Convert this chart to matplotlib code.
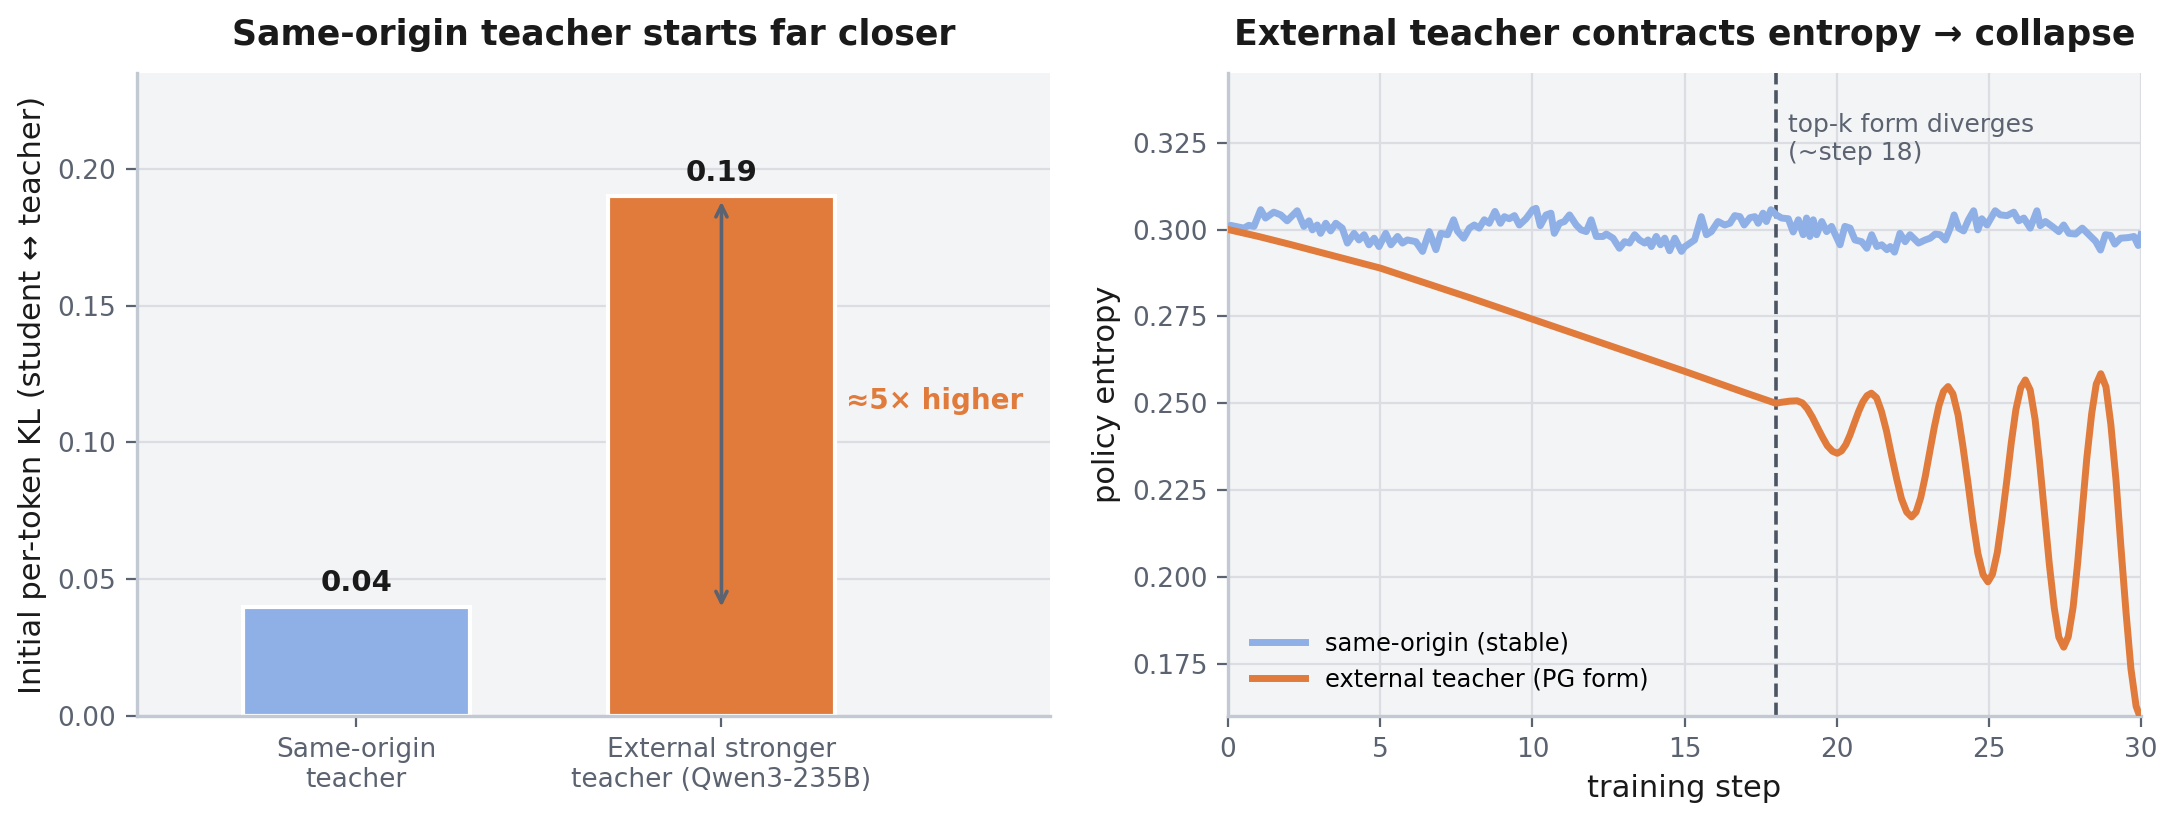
import matplotlib
matplotlib.use("Agg")
import matplotlib.pyplot as plt

# ---- Data: left panel (initial KL) ----
teachers = ["Same-origin\nteacher", "External stronger\nteacher (Qwen3-235B)"]
init_kl = [0.04, 0.19]

# ---- Data: right panel (policy entropy) ----
same_steps = [0.0, 0.08, 0.52, 0.68, 0.85, 1.07, 1.23, 1.50, 1.73, 1.94, 2.27, 2.49, 2.66,
              2.77, 2.93, 3.04, 3.21, 3.37, 3.54, 3.75, 3.92, 4.14, 4.30, 4.47, 4.63, 4.80,
              4.96, 5.18, 5.35, 5.57, 5.73, 5.89, 6.17, 6.39, 6.61, 6.83, 6.99, 7.21, 7.41,
              7.54, 7.74, 7.93, 8.09, 8.25, 8.42, 8.58, 8.77, 8.95, 9.08, 9.24, 9.41, 9.57,
              9.79, 10.01, 10.12, 10.26, 10.45, 10.61, 10.72, 10.89, 11.05, 11.22, 11.44,
              11.60, 11.77, 11.93, 12.10, 12.32, 12.43, 12.65, 12.86, 13.03, 13.19, 13.36,
              13.52, 13.69, 13.80, 13.91, 14.07, 14.21, 14.35, 14.51, 14.68, 14.90, 15.00,
              15.33, 15.55, 15.72, 15.88, 16.10, 16.32, 16.49, 16.65, 16.82, 16.96, 17.15,
              17.31, 17.42, 17.58, 17.69, 17.84, 18.02, 18.19, 18.41, 18.57, 18.74, 18.90,
              19.01, 19.12, 19.23, 19.34, 19.51, 19.67, 19.83, 20.11, 20.27, 20.44, 20.60,
              20.82, 20.99, 21.15, 21.32, 21.48, 21.65, 21.76, 21.90, 22.08, 22.25, 22.41,
              22.69, 22.91, 23.07, 23.24, 23.40, 23.57, 23.73, 23.86, 24.01, 24.17, 24.33,
              24.50, 24.64, 24.77, 24.94, 25.21, 25.38, 25.60, 25.82, 25.98, 26.15, 26.36,
              26.58, 26.69, 26.86, 27.08, 27.30, 27.46, 27.63, 27.85, 28.07, 28.29, 28.51,
              28.67, 28.83, 29.00, 29.14, 29.33, 29.60, 29.77, 29.91, 30.0]
same_entropy = [0.3005, 0.3012, 0.3004, 0.3012, 0.3009, 0.3057, 0.3033, 0.3050, 0.3042, 0.3025,
                0.3054, 0.3009, 0.3025, 0.2999, 0.3013, 0.2989, 0.3018, 0.2996, 0.3018, 0.3004,
                0.2961, 0.2989, 0.2970, 0.2985, 0.2956, 0.2975, 0.2951, 0.2989, 0.2956, 0.2980,
                0.2961, 0.2970, 0.2965, 0.2937, 0.2994, 0.2942, 0.2989, 0.2985, 0.3028, 0.2995,
                0.2975, 0.3004, 0.3013, 0.3004, 0.3028, 0.3018, 0.3052, 0.3018, 0.3037, 0.3031,
                0.3040, 0.3013, 0.3031, 0.3057, 0.3061, 0.3011, 0.3042, 0.3047, 0.2989, 0.3018,
                0.3023, 0.3042, 0.3013, 0.2999, 0.2994, 0.3028, 0.2980, 0.2980, 0.2987, 0.2975,
                0.2946, 0.2965, 0.2961, 0.2985, 0.2970, 0.2961, 0.2970, 0.2951, 0.2980, 0.2956,
                0.2975, 0.2939, 0.2975, 0.2937, 0.2950, 0.2970, 0.3037, 0.2985, 0.2994, 0.3023,
                0.3013, 0.3018, 0.3040, 0.3037, 0.3013, 0.3034, 0.3037, 0.3018, 0.3047, 0.3023,
                0.3057, 0.3042, 0.3033, 0.3031, 0.2993, 0.3028, 0.2985, 0.3033, 0.2980, 0.3028,
                0.2985, 0.3023, 0.2994, 0.3009, 0.2956, 0.3009, 0.3004, 0.2970, 0.2965, 0.2946,
                0.2985, 0.2951, 0.2956, 0.2942, 0.2951, 0.2935, 0.2989, 0.2965, 0.2985, 0.2961,
                0.2970, 0.2975, 0.2987, 0.2985, 0.2970, 0.3004, 0.3042, 0.3004, 0.2996, 0.3028,
                0.3054, 0.2999, 0.3031, 0.3013, 0.3054, 0.3042, 0.3040, 0.3050, 0.3025, 0.3033,
                0.3004, 0.3054, 0.3011, 0.3023, 0.3009, 0.2994, 0.3013, 0.2989, 0.2987, 0.3004,
                0.2985, 0.2966, 0.2941, 0.2985, 0.2983, 0.2958, 0.2975, 0.2977, 0.2980, 0.2954,
                0.2985]

ext_steps = [0, 1, 2, 3, 4, 5, 6, 7, 8, 9, 10, 11, 12, 13, 14, 15, 16, 17,
             18.0, 18.2, 18.45, 18.7, 18.87, 19.03, 19.2, 19.36, 19.53, 19.69, 19.86,
             20.02, 20.16, 20.3, 20.44, 20.58, 20.72, 20.86, 21.0, 21.14,
             21.31, 21.47, 21.64, 21.8, 21.97, 22.13, 22.3, 22.46,
             22.61, 22.76, 22.91, 23.06, 23.21, 23.36, 23.51, 23.66,
             23.82, 23.99, 24.15, 24.32, 24.48, 24.64, 24.81, 24.97,
             25.12, 25.28, 25.43, 25.59, 25.74, 25.89, 26.05, 26.2,
             26.36, 26.52, 26.67, 26.83, 26.99, 27.15, 27.3, 27.46,
             27.61, 27.77, 27.92, 28.07, 28.22, 28.38, 28.53, 28.68,
             28.85, 29.01, 29.18, 29.34, 29.51, 29.67, 29.84, 30.0]
ext_entropy = [0.3000, 0.2980, 0.2958, 0.2935, 0.2912, 0.2889, 0.2860, 0.2831, 0.2802,
               0.2772, 0.2742, 0.2712, 0.2682, 0.2652, 0.2622, 0.2592, 0.2561, 0.2530,
               0.2500, 0.2503, 0.2506, 0.2507, 0.2501, 0.2485, 0.2460, 0.2432, 0.2403, 0.2378, 0.2362,
               0.2356, 0.2363, 0.2381, 0.2409, 0.2443, 0.2476, 0.2504, 0.2522, 0.2529,
               0.2516, 0.2477, 0.2419, 0.2351, 0.2283, 0.2225, 0.2187, 0.2173,
               0.2187, 0.2228, 0.2289, 0.2361, 0.2432, 0.2493, 0.2534, 0.2548,
               0.2527, 0.2466, 0.2375, 0.2267, 0.2159, 0.2068, 0.2007, 0.1986,
               0.2008, 0.2071, 0.2165, 0.2277, 0.2388, 0.2482, 0.2545, 0.2567,
               0.2538, 0.2454, 0.2330, 0.2183, 0.2035, 0.1911, 0.1827, 0.1798,
               0.1828, 0.1913, 0.2041, 0.2192, 0.2342, 0.2470, 0.2555, 0.2585,
               0.2547, 0.2439, 0.2278, 0.2088, 0.1897, 0.1736, 0.1628, 0.1590]
diverge_step = 18

# ---- Style ----
BLUE = "#8fb0e6"
ORANGE = "#e07b3c"
GRAY = "#5b6270"
BG = "#f3f4f6"
SPINE = "#c3c9d3"
GRID = "#dcdde2"

plt.rcParams["font.family"] = ["DejaVu Sans"]

fig, (ax1, ax2) = plt.subplots(1, 2, figsize=(10.89, 4.11), dpi=200)
fig.subplots_adjust(left=0.063, right=0.983, bottom=0.129, top=0.911, wspace=0.195)

for ax in (ax1, ax2):
    ax.set_facecolor(BG)
    ax.set_axisbelow(True)
    for side in ("top", "right"):
        ax.spines[side].set_visible(False)
    for side in ("left", "bottom"):
        ax.spines[side].set_color(SPINE)
        ax.spines[side].set_linewidth(1.2)
    ax.tick_params(colors=GRAY, labelsize=9.5, length=4, width=0.8)

# ----- Left: bars -----
x = [0, 1]
ax1.bar(x, init_kl, width=0.62, color=[BLUE, ORANGE], edgecolor="white",
        linewidth=1.5, zorder=2)
for xi, v in zip(x, init_kl):
    ax1.annotate(f"{v:.2f}", (xi, v), textcoords="offset points", xytext=(0, 3.5),
                 ha="center", va="bottom", fontsize=10.5, fontweight="bold",
                 color="#1a1a1a")
ax1.annotate("", xy=(1, init_kl[1] - 0.002), xytext=(1, init_kl[0]),
             arrowprops=dict(arrowstyle="<->", color=GRAY, lw=1.3,
                             shrinkA=0, shrinkB=0), zorder=3)
ax1.text(1.34, (init_kl[0] + init_kl[1]) / 2, "≈5× higher", color=ORANGE,
         fontsize=10, fontweight="bold", ha="left", va="center")
ax1.set_xticks(x)
ax1.set_xticklabels(teachers)
ax1.set_xlim(-0.6, 1.9)
ax1.set_ylim(0, 0.235)
ax1.set_yticks([0, 0.05, 0.10, 0.15, 0.20])
ax1.yaxis.grid(True, color=GRID, linewidth=0.8)
ax1.set_ylabel("Initial per-token KL (student ↔ teacher)", fontsize=11, color="#1a1a1a")
ax1.set_title("Same-origin teacher starts far closer", fontsize=12.5,
              fontweight="bold", pad=10, color="#1a1a1a")

# ----- Right: entropy curves -----
ax2.plot(same_steps, same_entropy, color=BLUE, linewidth=2.5,
         label="same-origin (stable)", zorder=3)
ax2.plot(ext_steps, ext_entropy, color=ORANGE, linewidth=2.5,
         label="external teacher (PG form)", zorder=3)
ax2.axvline(diverge_step, color="#4b5563", linestyle="--", linewidth=1.3, zorder=2)
ax2.text(diverge_step + 0.4, 0.3335, "top-k form diverges\n(~step 18)", color=GRAY,
         fontsize=9, ha="left", va="top", linespacing=1.2)
ax2.set_xlim(0, 30)
ax2.set_ylim(0.16, 0.345)
yt = [0.175, 0.200, 0.225, 0.250, 0.275, 0.300, 0.325]
ax2.set_yticks(yt)
ax2.set_yticklabels([f"{t:.3f}" for t in yt])
ax2.grid(True, color=GRID, linewidth=0.8)
ax2.set_xlabel("training step", fontsize=11, color="#1a1a1a")
ax2.set_ylabel("policy entropy", fontsize=11, color="#1a1a1a")
ax2.set_title("External teacher contracts entropy → collapse", fontsize=12.5,
              fontweight="bold", pad=10, color="#1a1a1a")
ax2.legend(loc="lower left", frameon=False, fontsize=8.7, handlelength=2.2,
           borderaxespad=0.6)

fig.savefig("out.png", dpi=200)
